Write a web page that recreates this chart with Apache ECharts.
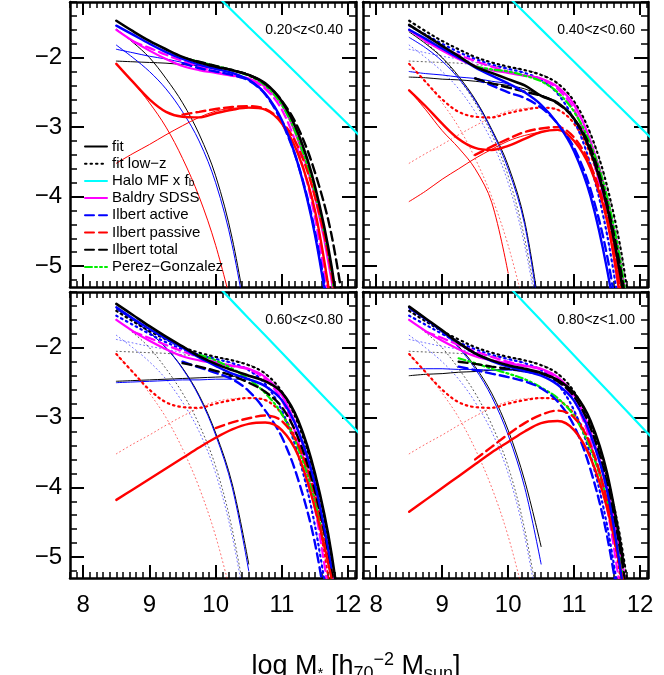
<!DOCTYPE html>
<html><head><meta charset="utf-8">
<script src="https://cdn.jsdelivr.net/npm/echarts/dist/echarts.min.js"></script>
<style>html,body{margin:0;padding:0;background:#fff}#c{width:664px;height:675px}</style>
</head><body><div id="c"></div>
<script>
// ---------------- data ----------------
const MASS = [8.5, 8.75, 9.0, 9.25, 9.5, 9.75, 10.0, 10.25, 10.5, 10.75, 11.0, 11.25, 11.5, 11.75, 12.0];
const HALO_MASS = [10.0, 10.5, 11.0, 11.5, 12.0, 12.2];
const PANEL_LABELS = ['0.20<z<0.40', '0.40<z<0.60', '0.60<z<0.80', '0.80<z<1.00'];
const X_TICKS = [8, 9, 10, 11, 12];
const Y_TICKS = [-5, -4, -3, -2];
const LEGEND_NAMES = ['fit', 'fit low\u2212z', 'Halo MF x fb', 'Baldry SDSS', 'Ilbert active', 'Ilbert passive', 'Ilbert total', 'Perez\u2212Gonzalez'];

// shared z~0 references
const BALDRY = [-1.6, -1.76, -1.9, -2.02, -2.12, -2.18, -2.22, -2.26, -2.3, -2.42, -2.68, -3.2, -4.0, -5.2, -7.0];
const BALDRY_B = [null, -1.77, -1.86, -1.96, -2.05, -2.13, -2.2, -2.26, -2.31, -2.45, -2.75, -3.35, -4.3, -5.8, null];

// halo MF x fb
const HALO_Z1 = [-1.09, -1.56, -2.02, -2.49, -2.96, -3.15];
const HALO_Z2 = [-1.12, -1.59, -2.06, -2.53, -3.0, -3.19];
const HALO_Z3 = [-1.08, -1.58, -2.07, -2.57, -3.06, -3.26];
const HALO_Z4 = [-1.11, -1.61, -2.11, -2.61, -3.11, -3.31];

// 0.2<z<0.4
const Z1_FIT      = [-1.47, -1.62, -1.76, -1.88, -1.99, -2.07, -2.13, -2.18, -2.25, -2.37, -2.63, -3.1, -3.85, -5.0, -6.8];
const Z1_ACTIVE   = [-1.54, -1.67, -1.8, -1.92, -2.02, -2.1, -2.16, -2.22, -2.32, -2.52, -2.9, -3.55, -4.55, -6.0, null];
const Z1_PASSIVE  = [-2.09, -2.35, -2.6, -2.78, -2.85, -2.86, -2.8, -2.75, -2.72, -2.75, -2.95, -3.4, -4.2, -5.6, null];
const Z1_FIT_LO   = [-1.59, -1.78, -2.0, -2.3, -2.65, -3.1, -3.7, -4.6, -5.9, null, null, null, null, null, null];
const Z1_FIT_HI   = [-2.05, -2.06, -2.07, -2.08, -2.1, -2.12, -2.14, -2.18, -2.24, -2.37, -2.64, -3.1, -3.86, -5.0, -6.8];
const Z1_ACT_LO   = [-1.82, -2.0, -2.2, -2.45, -2.78, -3.2, -3.8, -4.7, -6.0, null, null, null, null, null, null];
const Z1_ACT_HI   = [-1.88, -1.93, -1.98, -2.02, -2.07, -2.12, -2.17, -2.22, -2.32, -2.52, -2.9, -3.55, -4.55, -6.0, null];
const Z1_PAS_LO   = [-2.09, -2.35, -2.65, -3.0, -3.45, -4.0, -4.7, -5.6, null, null, null, null, null, null, null];
const Z1_PAS_HI   = [-3.52, -3.38, -3.25, -3.11, -2.98, -2.86, -2.77, -2.73, -2.72, -2.75, -2.95, -3.4, -4.2, -5.6, null];
const Z1_ILB_ACT  = [null, null, null, null, -2.08, -2.15, -2.2, -2.25, -2.33, -2.53, -2.93, -3.55, -4.5, -5.9, null];
const Z1_ILB_PAS  = [null, null, null, null, -2.82, -2.78, -2.74, -2.71, -2.7, -2.74, -2.92, -3.3, -4.0, -5.1, -7.0];
const Z1_ILB_TOT  = [null, null, null, null, -2.0, -2.06, -2.12, -2.18, -2.25, -2.38, -2.62, -3.02, -3.65, -4.55, -6.0];
const Z1_PEREZ    = [null, null, null, null, -2.0, -2.06, -2.12, -2.18, -2.26, -2.4, -2.68, -3.18, -3.95, -5.1, -7.0];

// 0.4<z<0.6
const Z2_FIT      = [-1.53, -1.68, -1.83, -1.98, -2.13, -2.22, -2.31, -2.4, -2.55, -2.65, -2.88, -3.35, -4.15, -5.4, null];
const Z2_ACTIVE   = [-1.6, -1.73, -1.87, -2.0, -2.14, -2.26, -2.37, -2.5, -2.68, -2.95, -3.35, -4.0, -5.05, -6.5, null];
const Z2_PASSIVE  = [-2.47, -2.7, -2.95, -3.17, -3.3, -3.33, -3.27, -3.17, -3.07, -3.04, -3.2, -3.6, -4.35, -5.8, null];
const Z2_FIT_LO   = [-1.63, -1.8, -2.0, -2.27, -2.6, -3.03, -3.55, -4.35, -5.8, null, null, null, null, null, null];
const Z2_FIT_HI   = [-2.28, -2.29, -2.31, -2.32, -2.34, -2.37, -2.4, -2.45, -2.54, -2.65, -2.88, -3.35, -4.15, -5.4, null];
const Z2_ACT_LO   = [-1.71, -1.86, -2.05, -2.3, -2.62, -3.05, -3.6, -4.4, -5.9, null, null, null, null, null, null];
const Z2_ACT_HI   = [-2.2, -2.23, -2.25, -2.28, -2.3, -2.34, -2.38, -2.5, -2.68, -2.95, -3.35, -4.0, -5.05, -6.5, null];
const Z2_PAS_LO   = [-2.47, -2.75, -3.05, -3.3, -3.6, -4.08, -5.1, null, null, null, null, null, null, null, null];
const Z2_PAS_HI   = [-4.07, -3.92, -3.75, -3.6, -3.45, -3.32, -3.2, -3.12, -3.07, -3.04, -3.2, -3.6, -4.35, -5.8, null];
const Z2_ILB_ACT  = [null, null, null, null, -2.3, -2.4, -2.5, -2.58, -2.72, -2.95, -3.3, -3.9, -4.85, -6.3, null];
const Z2_ILB_PAS  = [null, null, null, null, -3.4, -3.28, -3.17, -3.07, -3.02, -3.0, -3.15, -3.55, -4.3, -5.6, null];
const Z2_ILB_TOT  = [null, null, null, null, -2.3, -2.37, -2.43, -2.49, -2.55, -2.66, -2.88, -3.3, -4.1, -5.3, -7.0];
const Z2_PEREZ    = [null, null, null, null, -2.13, -2.17, -2.2, -2.26, -2.34, -2.5, -2.78, -3.25, -4.0, -5.2, -7.0];

// 0.6<z<0.8
const Z3_FIT      = [-1.37, -1.53, -1.69, -1.84, -1.98, -2.12, -2.23, -2.32, -2.4, -2.48, -2.64, -3.05, -3.8, -4.95, -6.8];
const Z3_ACTIVE   = [-1.42, -1.58, -1.73, -1.87, -2.0, -2.14, -2.26, -2.37, -2.45, -2.55, -2.75, -3.2, -3.95, -5.15, null];
const Z3_PASSIVE  = [-4.18, -4.03, -3.88, -3.73, -3.58, -3.43, -3.29, -3.17, -3.09, -3.07, -3.18, -3.55, -4.3, -5.3, null];
const Z3_FIT_LO   = [-1.44, -1.6, -1.78, -2.0, -2.29, -2.68, -3.22, -3.95, -5.1, null, null, null, null, null, null];
const Z3_FIT_HI   = [-2.48, -2.47, -2.46, -2.45, -2.44, -2.43, -2.42, -2.41, -2.4, -2.48, -2.64, -3.05, -3.8, -4.95, -6.8];
const Z3_ACT_LO   = [-1.45, -1.6, -1.78, -2.0, -2.3, -2.7, -3.25, -4.0, -5.2, null, null, null, null, null, null];
const Z3_ACT_HI   = [-2.5, -2.49, -2.48, -2.47, -2.46, -2.46, -2.45, -2.45, -2.46, -2.55, -2.75, -3.2, -3.95, -5.15, null];
const Z3_ILB_ACT  = [null, null, null, null, -2.2, -2.28, -2.36, -2.45, -2.62, -2.9, -3.28, -3.9, -4.8, -6.2, null];
const Z3_ILB_PAS  = [null, null, null, null, null, null, -3.15, -3.07, -3.01, -2.97, -3.05, -3.4, -4.1, -5.2, null];
const Z3_ILB_TOT  = [null, null, null, null, -2.22, -2.27, -2.33, -2.4, -2.5, -2.63, -2.85, -3.3, -4.05, -5.2, -7.0];
const Z3_PEREZ    = [null, null, null, null, null, -2.1, -2.18, -2.3, -2.45, -2.65, -2.95, -3.45, -4.2, -5.3, null];

// 0.8<z<1.0
const Z4_FIT      = [-1.41, -1.58, -1.75, -1.93, -2.08, -2.18, -2.25, -2.3, -2.36, -2.46, -2.65, -3.05, -3.8, -5.1, null];
const Z4_ACTIVE   = [-1.42, -1.59, -1.76, -1.93, -2.08, -2.19, -2.27, -2.33, -2.4, -2.53, -2.76, -3.25, -4.05, -5.5, null];
const Z4_PASSIVE  = [-4.35, -4.18, -4.01, -3.84, -3.67, -3.5, -3.35, -3.2, -3.08, -3.05, -3.18, -3.58, -4.3, -5.4, null];
const Z4_FIT_LO   = [-1.44, -1.59, -1.76, -1.98, -2.27, -2.65, -3.18, -3.9, -4.85, null, null, null, null, null, null];
const Z4_FIT_HI   = [-2.4, -2.38, -2.37, -2.35, -2.34, -2.32, -2.31, -2.32, -2.36, -2.46, -2.65, -3.05, -3.8, -5.1, null];
const Z4_ACT_LO   = [-1.45, -1.6, -1.78, -2.0, -2.3, -2.7, -3.25, -4.0, -5.1, null, null, null, null, null, null];
const Z4_ACT_HI   = [-2.3, -2.3, -2.3, -2.31, -2.31, -2.32, -2.32, -2.35, -2.4, -2.53, -2.76, -3.25, -4.05, -5.5, null];
const Z4_ILB_ACT  = [null, null, null, -2.27, -2.32, -2.37, -2.42, -2.48, -2.58, -2.77, -3.12, -3.75, -4.7, -6.1, null];
const Z4_ILB_PAS  = [null, null, null, null, -3.6, -3.42, -3.24, -3.08, -2.96, -2.9, -3.0, -3.4, -4.2, -5.4, null];
const Z4_ILB_TOT  = [null, null, null, -2.2, -2.23, -2.27, -2.3, -2.33, -2.37, -2.48, -2.7, -3.15, -3.95, -5.2, -7.0];
const Z4_PEREZ    = [null, null, null, -2.15, -2.22, -2.3, -2.37, -2.45, -2.57, -2.72, -2.98, -3.45, -4.2, -5.3, null];

// ---------------- layout / style ----------------
const FONT = 'Liberation Sans, Arial, Helvetica, sans-serif';
const GRIDS = [
  {left: 70, top: 2, width: 286, height: 285},
  {left: 363, top: 2, width: 285, height: 285},
  {left: 70, top: 292, width: 286, height: 286},
  {left: 363, top: 292, width: 285, height: 286}
];
const X_MIN = 7.8, X_MAX = 12.12, Y_MIN = -5.3, Y_MAX = -1.2;
const C = {black: '#000000', blue: '#0000ff', red: '#ff0000', magenta: '#ff00ff', cyan: '#00ffff', green: '#00ee00'};

const minorX = [];
for (let k = 78; k <= 121; k++) { if (k % 10 !== 0) minorX.push(k / 10); }
const minorY = [];
for (let k = -26; k <= -6; k++) { if (k % 5 !== 0) minorY.push(k / 5); }

const minus = v => String(v).replace('-', '\u2212');
const xAxes = [], yAxes = [];
GRIDS.forEach((g, gi) => {
  const showX = gi >= 2, showY = gi % 2 === 0;
  const base = {type: 'value', gridIndex: gi, min: X_MIN, max: X_MAX, splitLine: {show: false}};
  xAxes.push(Object.assign({}, base, {position: 'bottom',
    axisLine: {show: true, onZero: false, lineStyle: {color: '#000', width: 2.5}},
    axisTick: {show: true, inside: true, length: 13, customValues: X_TICKS, lineStyle: {color: '#000', width: 2}},
    axisLabel: {show: showX, customValues: X_TICKS, margin: 15, fontSize: 24, color: '#000', fontFamily: FONT}}));
  xAxes.push(Object.assign({}, base, {position: 'bottom', axisLine: {show: false, onZero: false},
    axisTick: {show: true, inside: true, length: 6, customValues: minorX, lineStyle: {color: '#000', width: 1.5}},
    axisLabel: {show: false}}));
  xAxes.push(Object.assign({}, base, {position: 'top',
    axisLine: {show: true, onZero: false, lineStyle: {color: '#000', width: 2.5}},
    axisTick: {show: true, inside: true, length: 13, customValues: X_TICKS, lineStyle: {color: '#000', width: 2}},
    axisLabel: {show: false}}));
  xAxes.push(Object.assign({}, base, {position: 'top', axisLine: {show: false, onZero: false},
    axisTick: {show: true, inside: true, length: 6, customValues: minorX, lineStyle: {color: '#000', width: 1.5}},
    axisLabel: {show: false}}));
  const ybase = {type: 'value', gridIndex: gi, min: Y_MIN, max: Y_MAX, splitLine: {show: false}};
  yAxes.push(Object.assign({}, ybase, {position: 'left',
    axisLine: {show: true, onZero: false, lineStyle: {color: '#000', width: 2.5}},
    axisTick: {show: true, inside: true, length: 14, customValues: Y_TICKS, lineStyle: {color: '#000', width: 2}},
    axisLabel: {show: showY, customValues: Y_TICKS, margin: 8, fontSize: 24, color: '#000', fontFamily: FONT, formatter: minus}}));
  yAxes.push(Object.assign({}, ybase, {position: 'left', axisLine: {show: false, onZero: false},
    axisTick: {show: true, inside: true, length: 7, customValues: minorY, lineStyle: {color: '#000', width: 1.5}},
    axisLabel: {show: false}}));
  yAxes.push(Object.assign({}, ybase, {position: 'right',
    axisLine: {show: true, onZero: false, lineStyle: {color: '#000', width: 2.5}},
    axisTick: {show: true, inside: true, length: 14, customValues: Y_TICKS, lineStyle: {color: '#000', width: 2}},
    axisLabel: {show: false}}));
  yAxes.push(Object.assign({}, ybase, {position: 'right', axisLine: {show: false, onZero: false},
    axisTick: {show: true, inside: true, length: 7, customValues: minorY, lineStyle: {color: '#000', width: 1.5}},
    axisLabel: {show: false}}));
});

const series = [];
function add(name, gi, xs, ys, color, width, type, opacity) {
  const data = [];
  xs.forEach((x, i) => { if (ys[i] !== null && ys[i] !== undefined) data.push([x, ys[i]]); });
  series.push({type: 'line', name: name, xAxisIndex: gi * 4, yAxisIndex: gi * 4, data: data,
    symbol: 'none', showSymbol: false, smooth: 0.35, silent: true, clip: true, animation: false,
    lineStyle: {color: color, width: width, type: type || 'solid', opacity: opacity || 1, cap: 'round'},
    itemStyle: {color: color}});
}
const DASH = [9, 5], DOTB = [1.5, 4], DOTT = [1, 3], DDD = [7, 3, 2, 3, 2, 3];

const PANELS = [
  {fit: Z1_FIT, act: Z1_ACTIVE, pas: Z1_PASSIVE, fitLo: Z1_FIT_LO, fitHi: Z1_FIT_HI, actLo: Z1_ACT_LO, actHi: Z1_ACT_HI,
   pasLo: Z1_PAS_LO, pasHi: Z1_PAS_HI, ia: Z1_ILB_ACT, ip: Z1_ILB_PAS, it: Z1_ILB_TOT, pg: Z1_PEREZ, halo: HALO_Z1},
  {fit: Z2_FIT, act: Z2_ACTIVE, pas: Z2_PASSIVE, fitLo: Z2_FIT_LO, fitHi: Z2_FIT_HI, actLo: Z2_ACT_LO, actHi: Z2_ACT_HI,
   pasLo: Z2_PAS_LO, pasHi: Z2_PAS_HI, ia: Z2_ILB_ACT, ip: Z2_ILB_PAS, it: Z2_ILB_TOT, pg: Z2_PEREZ, halo: HALO_Z2},
  {fit: Z3_FIT, act: Z3_ACTIVE, pas: Z3_PASSIVE, fitLo: Z3_FIT_LO, fitHi: Z3_FIT_HI, actLo: Z3_ACT_LO, actHi: Z3_ACT_HI,
   pasLo: null, pasHi: null, ia: Z3_ILB_ACT, ip: Z3_ILB_PAS, it: Z3_ILB_TOT, pg: Z3_PEREZ, halo: HALO_Z3},
  {fit: Z4_FIT, act: Z4_ACTIVE, pas: Z4_PASSIVE, fitLo: Z4_FIT_LO, fitHi: Z4_FIT_HI, actLo: Z4_ACT_LO, actHi: Z4_ACT_HI,
   pasLo: null, pasHi: null, ia: Z4_ILB_ACT, ip: Z4_ILB_PAS, it: Z4_ILB_TOT, pg: Z4_PEREZ, halo: HALO_Z4}
];

PANELS.forEach((p, gi) => {
  if (gi > 0) {
    const q = PANELS[0];
    add('lowz thin k1', gi, MASS, q.fitLo, C.black, 1, DOTT, 0.7);
    add('lowz thin k2', gi, MASS, q.fitHi, C.black, 1, DOTT, 0.7);
    add('lowz thin b1', gi, MASS, q.actLo, C.blue, 1, DOTT, 0.6);
    add('lowz thin b2', gi, MASS, q.actHi, C.blue, 1, DOTT, 0.6);
    add('lowz thin r1', gi, MASS, q.pasLo, C.red, 1, DOTT, 0.6);
    add('lowz thin r2', gi, MASS, q.pasHi, C.red, 1, DOTT, 0.6);
  }
  add('comp k1', gi, MASS, p.fitLo, C.black, 1);
  add('comp k2', gi, MASS, p.fitHi, C.black, 1);
  add('comp b1', gi, MASS, p.actLo, C.blue, 1);
  add('comp b2', gi, MASS, p.actHi, C.blue, 1);
  if (p.pasLo) add('comp r1', gi, MASS, p.pasLo, C.red, 1);
  if (p.pasHi) add('comp r2', gi, MASS, p.pasHi, C.red, 1);
  if (gi > 0) {
    const q = PANELS[0];
    add('fit low\u2212z', gi, MASS, q.fit, C.black, 2.2, DOTB);
    add('lowz red', gi, MASS, q.pas, C.red, 2.2, DOTB);
    add('lowz blue', gi, MASS, q.act, C.blue, 2.2, DOTB);
  }
  add('Halo MF x fb', gi, HALO_MASS, p.halo, C.cyan, 2.2);
  add('Baldry SDSS', gi, MASS, BALDRY, C.magenta, 2.2);
  add('Baldry b', gi, MASS, BALDRY_B, C.magenta, 2.2, DASH);
  add('Perez\u2212Gonzalez', gi, MASS, p.pg, C.green, 2.2, DDD);
  add('Ilbert active', gi, MASS, p.ia, C.blue, 2.4, DASH);
  add('Ilbert passive', gi, MASS, p.ip, C.red, 2.4, DASH);
  add('Ilbert total', gi, MASS, p.it, C.black, 2.4, DASH);
  add('fit red', gi, MASS, p.pas, C.red, 2.4);
  add('fit blue', gi, MASS, p.act, C.blue, 2.4);
  add('fit', gi, MASS, p.fit, C.black, 2.6);
});

const graphics = PANEL_LABELS.map((t, gi) => ({
  type: 'text', x: GRIDS[gi].left + GRIDS[gi].width - 13, y: GRIDS[gi].top + 28, silent: true,
  style: {text: t, fill: '#000', font: '14px ' + FONT, align: 'right', verticalAlign: 'middle'}
}));
graphics.push({type: 'text', x: 356, y: 667, silent: true,
  style: {text: '{m|log M}{st|*}{m| [h}{sb|70}{sp|\u22122}{m| M}{sb|sun}{m|]}', align: 'center', verticalAlign: 'middle', fill: '#000',
    rich: {
      m: {fontSize: 27, fontFamily: FONT, lineHeight: 32, verticalAlign: 'middle'},
      st: {fontSize: 15, fontFamily: FONT, lineHeight: 15, verticalAlign: 'bottom', padding: [0, 0, 2, 0]},
      sb: {fontSize: 18, fontFamily: FONT, lineHeight: 16, verticalAlign: 'bottom'},
      sp: {fontSize: 18, fontFamily: FONT, lineHeight: 18, verticalAlign: 'top'}
    }}});

const chart = echarts.init(document.getElementById('c'), null, {renderer: 'canvas'});
chart.setOption({
  animation: false,
  backgroundColor: '#fff',
  textStyle: {fontFamily: FONT},
  grid: GRIDS.map(g => Object.assign({containLabel: false}, g)),
  xAxis: xAxes,
  yAxis: yAxes,
  legend: {
    show: true, orient: 'vertical', left: 84, top: 139, itemWidth: 22, itemHeight: 10, itemGap: 2.2,
    selectedMode: false, data: LEGEND_NAMES, padding: 0,
    itemStyle: {opacity: 0, borderWidth: 0},
    textStyle: {fontSize: 15, color: '#000', fontFamily: FONT, lineHeight: 15,
      rich: {s: {fontSize: 10, fontFamily: FONT, verticalAlign: 'bottom', lineHeight: 10}}},
    formatter: n => n === 'Halo MF x fb' ? 'Halo MF x f{s|b}' : n
  },
  graphic: graphics,
  series: series
});
</script></body></html>
